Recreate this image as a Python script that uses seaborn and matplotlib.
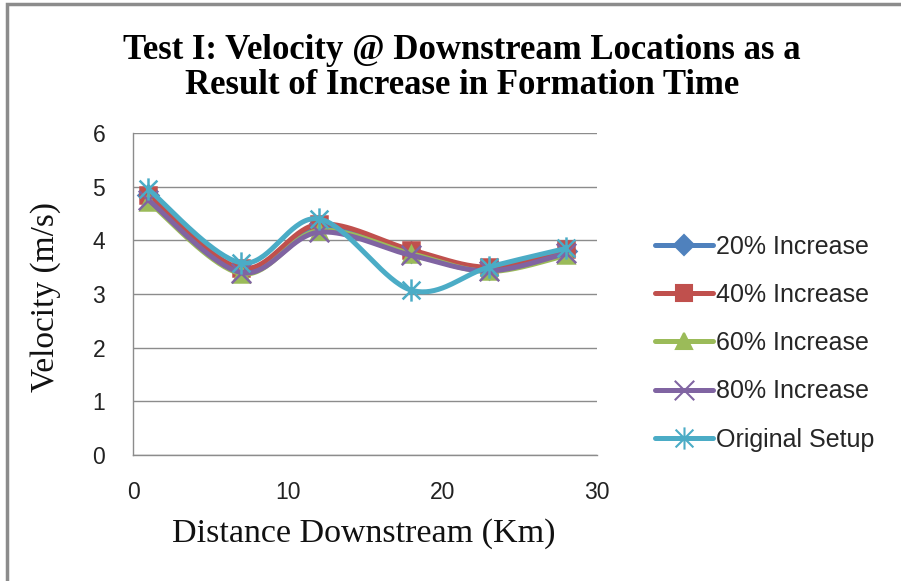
import numpy as np
import pandas as pd
import seaborn as sns
import matplotlib.pyplot as plt
from matplotlib.path import Path
from matplotlib.lines import Line2D
from matplotlib.patches import Rectangle

# Datos
distance = [1, 7, 12, 18, 23, 28]
inc20 = [4.85, 3.45, 4.25, 3.78, 3.47, 3.80]
inc40 = [4.85, 3.48, 4.30, 3.82, 3.50, 3.83]
inc60 = [4.72, 3.38, 4.18, 3.75, 3.42, 3.72]
inc80 = [4.75, 3.40, 4.15, 3.72, 3.43, 3.76]
original = [4.95, 3.58, 4.40, 3.07, 3.50, 3.85]

series_names = ["20% Increase", "40% Increase", "60% Increase",
                "80% Increase", "Original Setup"]
series_values = [inc20, inc40, inc60, inc80, original]
colors = ["#4F81BD", "#C0504D", "#9BBB59", "#8064A2", "#4BACC6"]
x_ticks = [0, 10, 20, 30]
y_ticks = [0, 1, 2, 3, 4, 5, 6]

# Marcador asterisco (x + linea vertical) como en Excel
star_path = Path(
    [(-0.8, -0.8), (0.8, 0.8), (-0.8, 0.8), (0.8, -0.8), (0, -1), (0, 1)],
    [Path.MOVETO, Path.LINETO, Path.MOVETO, Path.LINETO, Path.MOVETO, Path.LINETO],
)
x_path = Path(
    [(-1, -1), (1, 1), (-1, 1), (1, -1)],
    [Path.MOVETO, Path.LINETO, Path.MOVETO, Path.LINETO],
)
markers = ["D", "s", "^", x_path, star_path]
msizes = [10, 11, 12, 14, 16]


def curva_suave(xs, ys, n=40):
    """Curva suavizada estilo Excel (Bezier tipo Catmull-Rom)."""
    p = np.column_stack([xs, ys]).astype(float)
    p_ext = np.vstack([p[0], p, p[-1]])
    t = np.linspace(0, 1, n)[:, None]
    partes = []
    for i in range(len(p) - 1):
        p0, p1, p2, p3 = p_ext[i], p_ext[i + 1], p_ext[i + 2], p_ext[i + 3]
        c1 = p1 + (p2 - p0) / 6
        c2 = p2 - (p3 - p1) / 6
        seg = ((1 - t) ** 3) * p1 + 3 * ((1 - t) ** 2) * t * c1 \
            + 3 * (1 - t) * t ** 2 * c2 + t ** 3 * p2
        partes.append(seg if i == 0 else seg[1:])
    return np.vstack(partes)


sns.set_style("white")

fig = plt.figure(figsize=(9.01, 5.81), dpi=100)
ax = fig.add_axes([133 / 901, 1 - 455 / 581, 464 / 901, 322 / 581])

handles = []
for nombre, vals, col, mk, ms in zip(series_names, series_values, colors,
                                     markers, msizes):
    curva = curva_suave(distance, vals)
    df = pd.DataFrame({"x": curva[:, 0], "y": curva[:, 1]})
    sns.lineplot(data=df, x="x", y="y", sort=False, estimator=None,
                 color=col, linewidth=3.6, ax=ax, legend=False)
    relleno = col if mk in ("D", "s", "^") else "none"
    ax.plot(distance, vals, linestyle="none", marker=mk, markersize=ms,
            markerfacecolor=relleno, markeredgecolor=col, markeredgewidth=1.8)
    handles.append(Line2D([0], [0], color=col, linewidth=3.6, marker=mk,
                          markersize=ms, markerfacecolor=relleno,
                          markeredgecolor=col, markeredgewidth=1.5))

ax.set_xlim(0, 30)
ax.set_ylim(0, 6)
ax.set_xticks(x_ticks)
ax.set_yticks(y_ticks)
ax.grid(axis="y", color="#8C8C8C", linewidth=1)
ax.grid(axis="x", visible=False)
for s in ["top", "right"]:
    ax.spines[s].set_visible(False)
for s in ["left", "bottom"]:
    ax.spines[s].set_color("#8C8C8C")
    ax.spines[s].set_linewidth(1)
ax.tick_params(axis="both", length=0, labelsize=16.5, labelcolor="#222222")
ax.tick_params(axis="y", pad=20)
ax.tick_params(axis="x", pad=19)
for lab in ax.get_xticklabels() + ax.get_yticklabels():
    lab.set_fontfamily("Liberation Sans")

ax.set_xlabel("Distance Downstream (Km)", fontsize=24.5,
              fontfamily="Liberation Serif", color="#111111")
ax.set_ylabel("Velocity (m/s)", fontsize=24,
              fontfamily="Liberation Serif", color="#111111")
ax.xaxis.set_label_coords(0.497, -0.195)
ax.yaxis.set_label_coords(-0.155, 0.49)

fig.text(0.513, 0.883,
         "Test I: Velocity @ Downstream Locations as a\nResult of Increase in Formation Time",
         ha="center", va="center", fontsize=25, fontweight="bold",
         fontfamily="Liberation Serif", linespacing=1.07, color="#000000")

fig.legend(handles=handles, labels=series_names, loc="center left",
           bbox_to_anchor=(655 / 901, 1 - 343 / 581), frameon=False,
           prop={"family": "Liberation Sans", "size": 18},
           handlelength=2.3, handletextpad=0.15, labelspacing=0.97,
           borderaxespad=0, borderpad=0)

# Marco del grafico (recortado a la derecha y abajo)
fig.patches.append(Rectangle((7 / 901, -0.1), 1.2, 1.1 - 4 / 581,
                             transform=fig.transFigure, fill=False,
                             edgecolor="#8C8C8C", linewidth=2.5))

fig.savefig("out.png", dpi=100)
